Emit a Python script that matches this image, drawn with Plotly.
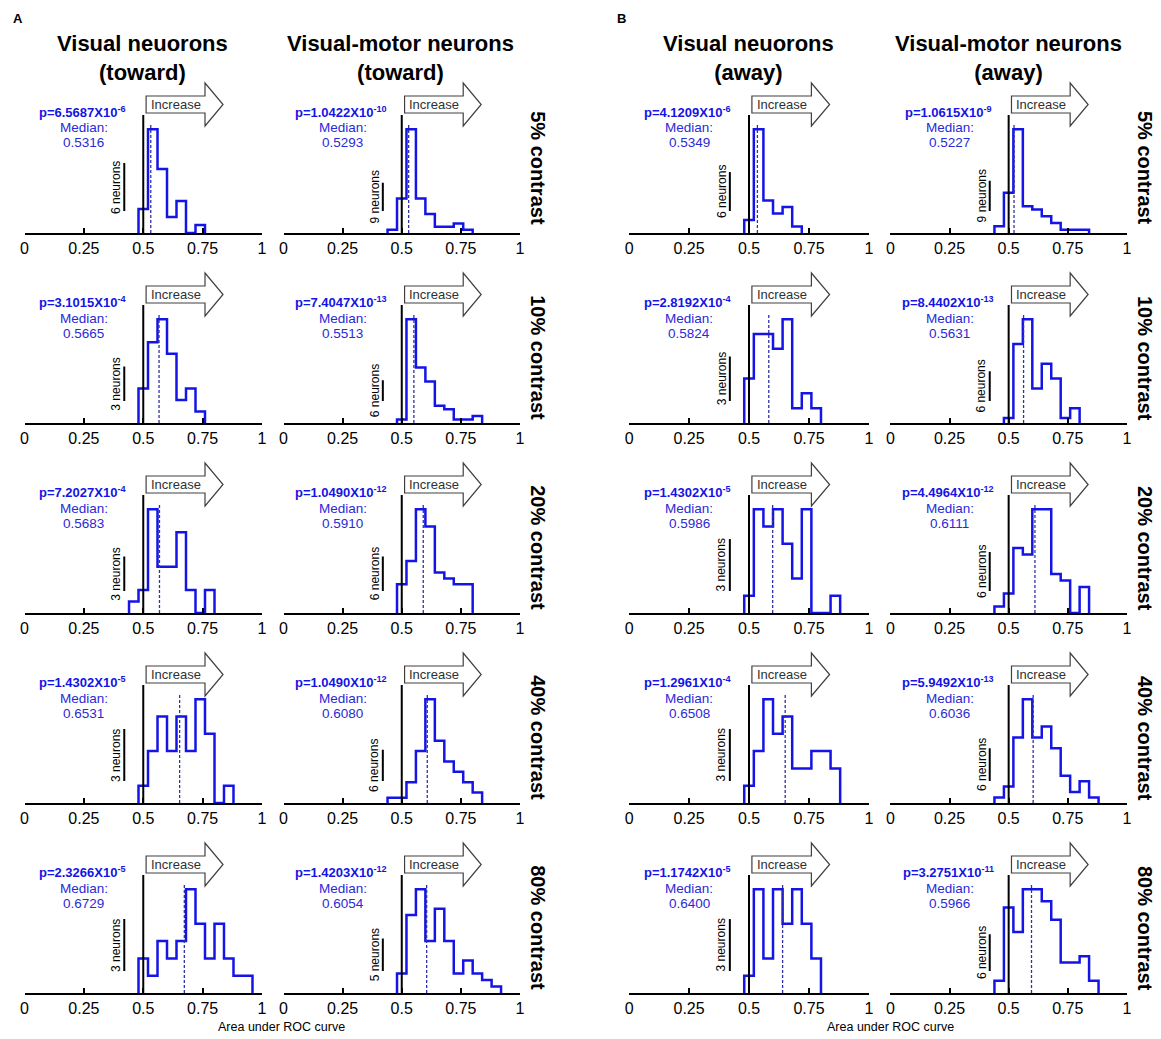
import plotly.graph_objects as go

W, H = 1161, 1039
BIN_W = 0.04
FONT = "Arial, 'Liberation Sans', Helvetica, sans-serif"

contrast_labels = ["5% contrast", "10% contrast", "20% contrast", "40% contrast", "80% contrast"]
title_line1 = ["Visual neuorons", "Visual-motor neurons", "Visual neuorons", "Visual-motor neurons"]
title_line2 = ["(toward)", "(toward)", "(away)", "(away)"]
tick_vals = [0, 0.25, 0.5, 0.75, 1]
tick_text = ["0", "0.25", "0.5", "0.75", "1"]
xaxis_title = "Area under ROC curve"

# ---- Visual neurons (toward) ----
vis_toward_first_edge = [0.48, 0.48, 0.44, 0.48, 0.48]
vis_toward_counts = [
    [3, 13, 8, 2, 4, 0, 1],
    [3, 7, 9, 6, 2, 3, 1],
    [1, 2, 9, 4, 4, 7, 2, 0, 2],
    [1, 3, 5, 3, 5, 3, 6, 4, 0, 1],
    [2, 1, 3, 2, 3, 6, 4, 2, 4, 2, 1, 1],
]
vis_toward_median = [0.5316, 0.5665, 0.5683, 0.6531, 0.6729]
vis_toward_p = ["6.5687", "3.1015", "7.2027", "1.4302", "2.3266"]
vis_toward_exp = ["-6", "-4", "-4", "-5", "-5"]
vis_toward_scale = [6, 3, 3, 3, 3]

# ---- Visual-motor neurons (toward) ----
vm_toward_first_edge = [0.44, 0.48, 0.48, 0.44, 0.48]
vm_toward_counts = [
    [1, 11, 33, 11, 6, 2, 2, 3, 1],
    [1, 30, 16, 12, 5, 4, 1, 1, 2],
    [5, 9, 18, 15, 7, 6, 5, 5],
    [1, 1, 4, 10, 20, 12, 8, 6, 4, 2],
    [3, 12, 16, 8, 13, 8, 3, 5, 3, 2, 1],
]
vm_toward_median = [0.5293, 0.5513, 0.5910, 0.6080, 0.6054]
vm_toward_p = ["1.0422", "7.4047", "1.0490", "1.0490", "1.4203"]
vm_toward_exp = ["-10", "-13", "-12", "-12", "-12"]
vm_toward_scale = [9, 6, 6, 6, 5]

# ---- Visual neurons (away) ----
vis_away_first_edge = [0.48, 0.48, 0.48, 0.48, 0.48]
vis_away_counts = [
    [2, 16, 5, 3, 4, 1],
    [3, 6, 6, 5, 7, 1, 2, 1],
    [1, 6, 5, 6, 4, 2, 6, 0, 0, 1],
    [1, 3, 6, 4, 5, 2, 2, 3, 3, 2],
    [1, 6, 2, 6, 4, 6, 4, 2],
]
vis_away_median = [0.5349, 0.5824, 0.5986, 0.6508, 0.6400]
vis_away_p = ["4.1209", "2.8192", "1.4302", "1.2961", "1.1742"]
vis_away_exp = ["-6", "-4", "-5", "-4", "-5"]
vis_away_scale = [6, 3, 3, 3, 3]

# ---- Visual-motor neurons (away) ----
vm_away_first_edge = [0.44, 0.48, 0.44, 0.44, 0.44]
vm_away_counts = [
    [2, 12, 31, 8, 7, 5, 3, 1, 1, 1],
    [1, 16, 21, 7, 12, 9, 1, 3],
    [1, 3, 10, 9, 16, 16, 6, 5, 0, 4],
    [1, 3, 12, 19, 12, 14, 10, 5, 2, 4, 1],
    [2, 14, 10, 17, 17, 15, 12, 5, 5, 6, 2],
]
vm_away_median = [0.5227, 0.5631, 0.6111, 0.6036, 0.5966]
vm_away_p = ["1.0615", "8.4402", "4.4964", "5.9492", "3.2751"]
vm_away_exp = ["-9", "-13", "-12", "-13", "-11"]
vm_away_scale = [9, 6, 6, 6, 6]

columns = [
    (vis_toward_first_edge, vis_toward_counts, vis_toward_median, vis_toward_p, vis_toward_exp, vis_toward_scale),
    (vm_toward_first_edge, vm_toward_counts, vm_toward_median, vm_toward_p, vm_toward_exp, vm_toward_scale),
    (vis_away_first_edge, vis_away_counts, vis_away_median, vis_away_p, vis_away_exp, vis_away_scale),
    (vm_away_first_edge, vm_away_counts, vm_away_median, vm_away_p, vm_away_exp, vm_away_scale),
]

# ---- layout geometry (pixels) ----
col_px = [(20.7, 260.0), (281.7, 520.0), (630.0, 871.7), (893.3, 1131.7)]
base_px = [233, 423, 613, 803, 993]
PANEL_PX = 158
PEAK_PX = 108

def fx(px):
    return px / W

def fy(py):
    return 1 - py / H

fig = go.Figure()
layout = dict(
    width=W, height=H, margin=dict(l=0, r=0, t=0, b=0),
    paper_bgcolor="white", plot_bgcolor="rgba(0,0,0,0)",
    showlegend=False, font=dict(family=FONT, color="black"),
)
shapes = []
annotations = []

BLUE = "#1414e6"
TXT_BLUE = "#2a2ad8"

for ci, (first_edge, counts_list, medians, pm, pe, scales) in enumerate(columns):
    x0p, x1p = col_px[ci]
    for ri in range(5):
        k = ci * 5 + ri + 1
        xname = "x" if k == 1 else f"x{k}"
        yname = "y" if k == 1 else f"y{k}"
        xkey = "xaxis" if k == 1 else f"xaxis{k}"
        ykey = "yaxis" if k == 1 else f"yaxis{k}"
        counts = counts_list[ri]
        ytop = max(counts) * 1.04
        d = lambda px, yt=ytop: px / PEAK_PX * yt
        b = base_px[ri]
        layout[xkey] = dict(
            domain=[fx(x0p), fx(x1p)], anchor=yname, range=[0, 1],
            showline=True, linecolor="black", linewidth=2,
            ticks="inside", ticklen=5, tickwidth=2, tickcolor="black",
            tickvals=tick_vals, ticktext=tick_text,
            tickfont=dict(size=16, family=FONT, color="black"),
            showgrid=False, zeroline=False, fixedrange=True,
        )
        layout[ykey] = dict(
            domain=[fy(b), fy(b - PANEL_PX)], anchor=xname,
            range=[0, d(PANEL_PX)], visible=False, showgrid=False,
            zeroline=False, fixedrange=True,
        )
        # histogram outline (stairs)
        edges = [first_edge[ri] + BIN_W * i for i in range(len(counts) + 1)]
        xs = [edges[0]] + edges[:-1] + [edges[-1], edges[-1]]
        ys = [0] + counts + [counts[-1], 0]
        fig.add_trace(go.Scatter(
            x=xs, y=ys, mode="lines", xaxis=xname, yaxis=yname,
            line=dict(color=BLUE, width=2.5, shape="hv"), hoverinfo="skip",
        ))
        # chance line at 0.5
        shapes.append(dict(type="line", xref=xname, yref=yname, x0=0.5, x1=0.5,
                           y0=0, y1=d(118), line=dict(color="black", width=2)))
        # median dashed line
        shapes.append(dict(type="line", xref=xname, yref=yname, x0=medians[ri], x1=medians[ri],
                           y0=0, y1=ytop, line=dict(color="#3030a8", width=1.3, dash="3px,2px")))
        # scale bar
        sb0 = d(22)
        sb1 = sb0 + scales[ri]
        shapes.append(dict(type="line", xref=xname, yref=yname, x0=0.42, x1=0.42,
                           y0=sb0, y1=sb1, line=dict(color="black", width=2)))
        annotations.append(dict(xref=xname, yref=yname, x=0.385, y=(sb0 + sb1) / 2,
                                text=f"{scales[ri]} neurons", textangle=-90, showarrow=False,
                                font=dict(size=12, family=FONT, color="black"),
                                xanchor="center", yanchor="middle"))
        # Increase arrow
        ax0, ax1, axt = 0.512, 0.76, 0.836
        path = (f"M {ax0},{d(120)} L {ax1},{d(120)} L {ax1},{d(107)} L {axt},{d(128.5)} "
                f"L {ax1},{d(150)} L {ax1},{d(137)} L {ax0},{d(137)} Z")
        shapes.append(dict(type="path", xref=xname, yref=yname, path=path,
                           fillcolor="white", line=dict(color="#404040", width=1.2)))
        annotations.append(dict(xref=xname, yref=yname, x=(ax0 + ax1) / 2, y=d(128.5),
                                text="Increase", showarrow=False,
                                font=dict(size=13, family=FONT, color="#303030"),
                                xanchor="center", yanchor="middle"))
        # p-value and median text
        annotations.append(dict(xref=xname, yref=yname, x=0.245, y=d(121),
                                text=f"<b>p={pm[ri]}X10<sup>{pe[ri]}</sup></b>", showarrow=False,
                                font=dict(size=13, family=FONT, color=BLUE),
                                xanchor="center", yanchor="middle"))
        annotations.append(dict(xref=xname, yref=yname, x=0.25, y=d(105),
                                text="Median:", showarrow=False,
                                font=dict(size=13.5, family=FONT, color=TXT_BLUE),
                                xanchor="center", yanchor="middle"))
        annotations.append(dict(xref=xname, yref=yname, x=0.25, y=d(90),
                                text=f"{medians[ri]:.4f}", showarrow=False,
                                font=dict(size=13.5, family=FONT, color=TXT_BLUE),
                                xanchor="center", yanchor="middle"))

# row labels
for xc in (538, 1150):
    for ri in range(5):
        annotations.append(dict(xref="paper", yref="paper", x=fx(xc), y=fy(base_px[ri] - 65),
                                text=f"<b>{contrast_labels[ri]}</b>", textangle=90, showarrow=False,
                                font=dict(size=20, family=FONT, color="black"),
                                xanchor="center", yanchor="middle"))

# column titles (two lines in one text block)
title_cx = [140, 400, 750, 1012]
for ci in range(4):
    annotations.append(dict(xref="paper", yref="paper", x=fx(title_cx[ci]), y=fy(58.5),
                            text=f"<b>{title_line1[ci]}</b><br><b>{title_line2[ci]}</b>",
                            showarrow=False, align="center",
                            font=dict(size=22, family=FONT, color="black"),
                            xanchor="center", yanchor="middle"))

# panel letters
for letter, xc in (("A", 14), ("B", 622)):
    annotations.append(dict(xref="paper", yref="paper", x=fx(xc), y=fy(18),
                            text=f"<b>{letter}</b>", showarrow=False,
                            font=dict(size=13, family=FONT, color="black"),
                            xanchor="center", yanchor="middle"))

# x-axis titles
for xc in (280, 893):
    annotations.append(dict(xref="paper", yref="paper", x=fx(xc), y=fy(1027),
                            text=xaxis_title, showarrow=False,
                            font=dict(size=12.5, family=FONT, color="black"),
                            xanchor="center", yanchor="middle"))

layout["shapes"] = shapes
layout["annotations"] = annotations
fig.update_layout(**layout)

fig.write_html("out.html", post_script="document.body.style.margin='0';",
               config={"displayModeBar": False})
